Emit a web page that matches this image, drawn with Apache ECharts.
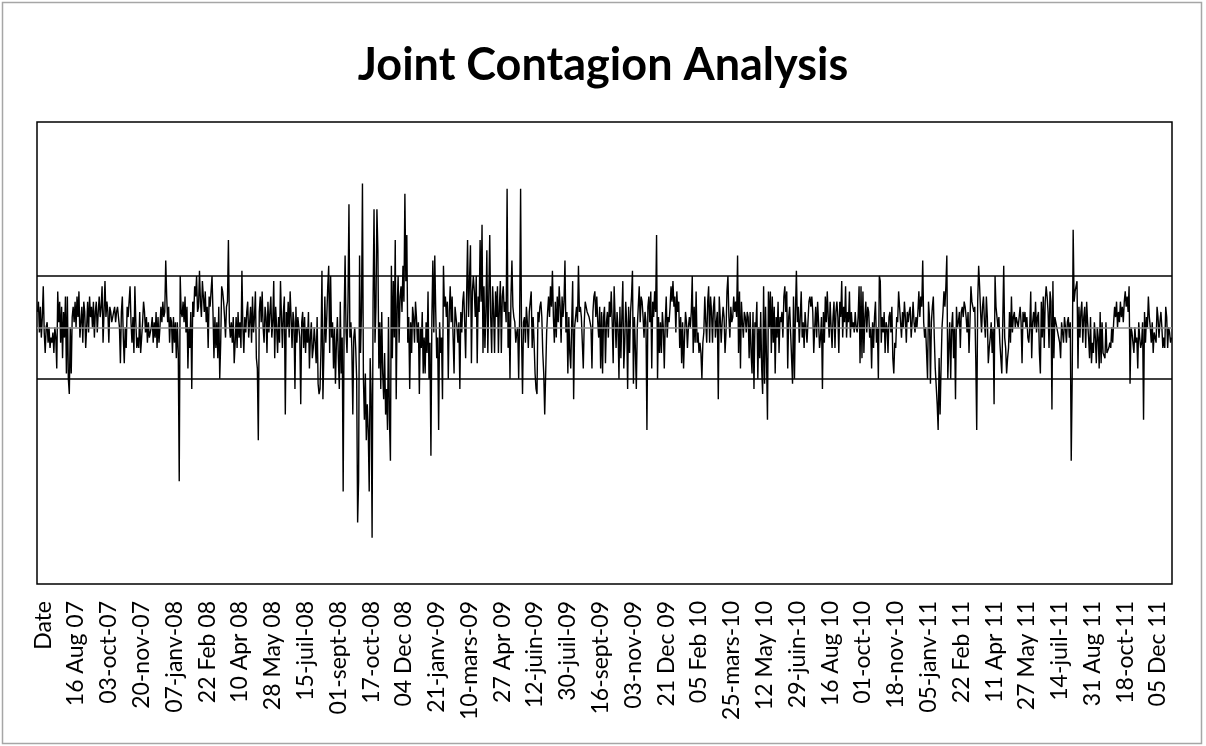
<!DOCTYPE html>
<html><head><meta charset="utf-8">
<script src="https://cdn.jsdelivr.net/npm/echarts@6/dist/echarts.min.js"></script>
<style>html,body{margin:0;padding:0;background:#fff}#c{width:1206px;height:746px}</style>
</head><body><div id="c"></div>
<script>
const chartTitle = 'Joint Contagion Analysis';
const tickLabels = ['Date','16 Aug 07','03-oct-07','20-nov-07','07-janv-08','22 Feb 08','10 Apr 08','28 May 08','15-juil-08','01-sept-08','17-oct-08','04 Dec 08','21-janv-09','10-mars-09','27 Apr 09','12-juin-09','30-juil-09','16-sept-09','03-nov-09','21 Dec 09','05 Feb 10','25-mars-10','12 May 10','29-juin-10','16 Aug 10','01-oct-10','18-nov-10','05-janv-11','22 Feb 11','11 Apr 11','27 May 11','14-juil-11','31 Aug 11','18-oct-11','05 Dec 11'];
const firstLabelIndex = 6;
const labelStep = 34;
const upperBand = 1, centreLine = 0, lowerBand = -1;
const yMin = -5, yMax = 4;
const values = [
0.3,0.5,-0.1,0.4,-0.2,0.2,0.8,-0.1,-0.5,0.0,
0.1,-0.3,0.0,-0.4,-0.2,-0.3,-0.1,-0.5,0.0,-0.2,
-0.8,0.7,0.1,0.5,-0.3,0.4,-0.6,0.3,-0.2,0.6,
-0.9,0.6,-1.0,-1.3,0.0,-0.9,0.2,0.4,0.1,0.5,
0.0,0.6,0.2,0.7,-0.2,0.1,0.4,-0.3,0.5,0.3,
-0.4,0.0,0.5,-0.1,0.6,0.2,0.4,0.0,0.5,-0.2,
0.3,0.5,-0.1,0.3,0.6,0.2,0.4,0.8,-0.3,0.3,
0.9,0.2,0.5,0.3,-0.3,0.4,0.3,0.1,0.2,0.3,
0.4,0.1,0.3,0.4,0.2,0.0,-0.7,0.3,0.6,-0.2,
-0.7,0.0,-0.4,0.4,0.2,0.5,0.8,0.1,-0.3,0.2,
-0.5,0.8,0.1,-0.4,-0.2,-0.4,0.3,-0.5,-0.2,0.1,
0.5,0.3,-0.1,0.2,-0.3,0.1,-0.2,-0.1,0.0,0.2,
-0.3,0.1,-0.2,0.3,-0.4,0.2,-0.3,0.0,0.4,0.1,
0.5,0.2,0.3,1.3,0.6,0.1,0.4,-0.3,0.2,0.1,
-0.5,0.2,-0.3,0.1,-0.6,0.1,-0.5,-3.0,1.0,0.3,
0.2,0.5,0.1,0.6,-0.1,0.4,-0.8,0.0,-0.4,0.3,
-1.2,0.5,0.2,0.8,0.6,1.0,0.3,0.4,1.1,0.5,
0.2,0.9,0.6,0.3,0.7,0.1,0.4,-0.4,0.6,0.4,
0.7,1.0,0.3,-0.6,0.2,-0.4,0.1,-0.6,0.4,-1.0,
-0.3,0.8,0.7,0.5,0.2,-0.2,0.4,
0.5,1.7,0.1,-0.2,0.1,-0.3,0.2,-0.7,-0.3,0.2,
-0.4,0.3,-0.2,0.1,-0.4,1.1,0.0,-0.5,0.2,-0.1,
0.3,0.5,-0.2,0.1,0.4,-0.3,0.6,-0.1,0.2,0.7,
-0.6,-0.8,-2.2,0.3,0.6,0.1,0.7,0.0,-0.3,0.4,
0.2,-0.5,0.5,-0.1,0.3,0.6,-0.2,0.1,0.9,-0.6,
0.4,0.0,-0.5,0.2,-0.3,0.9,0.2,-0.4,0.3,0.6,
-1.7,0.3,0.0,0.5,-0.2,0.7,0.2,-0.4,0.3,0.1,
-1.2,0.4,-0.3,0.2,0.0,-0.2,-1.5,0.1,0.3,-0.4,
0.2,-0.5,0.0,-0.3,0.3,-0.8,-0.2,0.1,-0.6,-0.4,
0.0,-0.3,-0.7,0.2,-1.1,-1.3,-1.2,-0.4,1.1,-1.4,
-0.5,0.6,-0.3,0.2,0.8,1.2,-0.5,1.0,-0.2,0.1,
-0.8,0.0,-1.1,-0.3,0.2,-0.6,-1.2,0.5,-0.9,-0.2,
-3.2,0.2,1.4,-0.1,-0.5,0.5,2.4,-0.2,0.1,-0.4,
-1.7,-0.2,0.0,-0.4,-1.0,-3.8,-3.0,1.4,-0.5,0.3,
2.8,-1.0,-1.8,-0.9,-2.2,-1.5,-2.0,-3.2,-0.6,-1.3,
-4.1,0.5,2.3,-0.3,0.4,2.3,1.5,-0.8,0.1,-1.2,
0.3,-0.9,-1.4,-0.5,-1.7,-1.2,-2.0,0.2,-1.8,-2.6,
1.2,-0.6,0.9,-0.2,1.7,-1.4,0.4,1.0,-0.3,0.6,
0.8,0.3,1.2,0.5,2.6,0.9,1.8,-0.3,0.2,-1.2,
0.1,-0.5,0.4,0.2,-0.3,0.5,
0.2,-0.3,0.1,-1.3,0.0,-0.4,0.3,-0.9,-0.2,-0.9,
0.1,-0.5,0.7,-1.0,-0.3,-2.5,0.2,1.3,-0.1,1.4,
0.3,-0.6,-0.2,-2.0,0.1,-0.5,-0.2,-1.4,1.2,0.4,
0.6,0.2,0.5,-1.0,0.3,0.8,0.1,0.6,-0.2,-0.9,
0.4,0.2,0.0,-0.3,0.1,-1.2,0.3,-0.1,0.5,0.7,
0.1,-0.6,0.6,1.7,0.2,0.9,1.6,-0.7,0.7,1.0,
0.7,0.2,1.0,-0.7,0.6,0.3,1.7,0.5,2.0,-0.5,
0.8,-0.4,0.3,1.5,-0.5,0.6,1.8,0.2,-0.5,0.8,
0.3,-0.5,0.7,0.2,0.8,-0.5,0.4,0.9,-0.5,0.6,
0.8,0.3,0.5,0.1,2.7,-0.4,0.3,-1.0,0.6,1.3,
0.4,0.2,0.1,-0.3,-0.1,0.0,-1.0,0.2,2.7,-0.2,
-1.3,0.1,0.2,-0.3,0.4,0.1,-0.4,0.3,0.5,0.7,
-0.4,0.2,-0.3,-0.9,-1.2,-1.3,0.3,0.1,0.4,0.5,
0.2,-0.5,-0.9,-1.7,-1.7,-0.1,0.3,0.6,0.2,0.8,
0.4,1.1,0.2,-0.3,0.5,-0.2,0.6,0.1,0.8,0.4,
-0.3,0.6,0.2,0.5,1.3,-0.1,0.3,-0.9,0.2,-0.5,
-0.8,0.1,0.9,-1.4,0.0,0.2,0.4,0.1,1.2,0.3,
0.4,0.2,-0.3,-0.8,0.1,0.5,0.4,0.3,0.3,0.2,
0.1,0.0,-0.8,0.3,0.6,0.7,0.2,0.6,0.1,-0.2,
0.4,-0.8,0.3,-0.9,
0.2,0.4,-0.7,0.1,0.3,-0.2,0.5,0.2,0.7,0.1,
-0.7,0.8,0.2,-0.4,0.3,0.0,-1.0,0.4,-0.6,0.2,
0.9,-0.8,-0.3,0.5,0.1,-1.2,0.4,-0.5,0.3,0.6,
1.1,-1.1,0.2,-0.4,-1.2,0.0,0.4,0.8,0.1,0.6,
0.5,0.2,-0.2,0.3,0.1,-2.0,0.4,0.6,0.1,0.7,
-0.8,0.5,0.2,0.7,0.3,1.8,-1.0,0.2,-0.5,0.1,
-0.5,0.3,0.0,-0.8,0.1,0.6,-0.2,0.2,0.1,0.4,
0.8,0.5,0.9,0.4,0.6,-0.1,0.7,0.3,0.5,-0.4,
0.2,-0.7,0.1,-0.8,-0.2,0.3,0.1,-0.4,0.0,0.2,
0.0,0.3,1.0,-0.5,0.4,-0.3,0.7,-0.3,-0.1,-0.5,
-0.3,-0.5,-1.0,-0.3,-0.1,0.6,0.1,-0.3,0.5,0.8,
-0.3,0.6,0.3,-0.3,0.4,0.6,-0.2,0.1,0.3,-1.4,
0.6,0.2,-0.3,0.1,0.4,0.2,-0.5,-0.1,0.7,1.0,
0.2,-0.2,0.4,0.1,0.2,0.6,0.3,0.5,0.2,1.4,
-0.5,0.7,-0.8,0.5,0.1,-0.2,0.3,0.2,-0.1,0.3,
0.2,-0.6,0.3,-0.5,-0.9,0.3,-1.2,0.1,0.0,0.5,
-1.0,0.0,-0.6,0.3,-0.8,-1.3,0.8,-1.1,0.4,-0.6,
-1.8,0.7,0.0,0.7,-0.5,0.6,-0.3,0.4,-0.9,0.2,
-0.2,0.5,-0.5,0.2,0.1,0.3,-0.2,0.6,0.8,0.3,
0.7,-0.8,0.2,0.4,-0.1,
-0.6,-1.1,0.6,-1.0,0.3,1.1,0.1,0.4,-0.3,0.2,
0.7,-0.2,0.1,-0.4,0.3,0.0,-0.3,0.1,0.5,0.6,
0.4,0.6,0.3,-0.5,0.0,0.4,-0.2,0.5,0.1,-0.4,
-0.2,0.2,-1.2,0.3,-0.3,0.6,0.1,0.7,0.2,-0.2,
0.5,0.0,-0.4,0.2,0.5,-0.4,0.3,0.5,0.2,-0.5,
0.5,0.2,0.9,-0.2,0.4,0.1,0.8,-0.2,0.3,0.1,
0.7,-0.2,0.3,0.0,0.1,-0.1,0.3,0.0,-0.1,0.2,
0.8,-0.7,0.8,-0.6,0.7,-0.5,0.2,0.5,-0.1,0.4,
0.3,-0.2,0.0,-0.8,0.1,-0.4,0.2,0.5,-0.3,0.0,
-1.0,1.0,0.9,-0.3,0.2,-0.1,0.3,-0.5,0.1,0.0,
-0.5,0.2,0.3,-0.1,0.4,-0.6,-0.9,-0.3,-0.4,0.2,
0.1,0.7,0.4,0.1,-0.2,0.3,0.0,0.5,0.2,-0.3,
0.3,0.1,0.3,0.4,-0.2,0.1,0.5,0.1,-0.1,0.2,
0.0,0.3,0.7,0.2,0.6,0.4,1.3,0.1,-0.2,0.0,
0.0,-1.0,0.5,0.2,-1.1,0.1,0.4,0.6,-0.2,-0.8,
-0.8,-1.5,-2.0,-0.6,-1.7,-0.8,0.0,0.3,0.7,0.4,
0.8,1.4,-1.0,-0.4,0.1,-1.0,0.0,0.3,-0.6,0.0,
-1.4,0.4,0.0,0.1,0.3,-0.4,0.3,0.4,0.2,0.5,
0.4,0.2,-0.1,0.3,-0.5,0.1,0.8,0.5,0.4,0.3,
0.4,-0.6,-2.0,0.5,1.2,
0.8,0.3,-0.1,0.4,0.6,0.1,-0.2,0.6,0.2,-0.7,
-0.4,-0.2,0.1,-0.5,0.0,-1.5,1.0,0.4,0.2,0.0,
0.2,-0.3,-0.6,-0.9,0.1,1.2,-0.2,-0.4,-0.9,-0.6,
-0.4,0.3,-0.3,0.6,-0.1,0.2,0.3,0.0,0.2,0.1,
0.0,0.2,0.4,0.1,-0.7,0.3,0.1,0.3,0.0,0.2,
-0.2,-0.3,0.0,0.7,-0.6,0.1,0.3,0.0,0.5,-0.1,
0.2,0.3,-0.5,-0.9,0.5,-0.2,0.6,-0.4,0.5,0.8,
0.6,0.3,-0.4,0.7,0.5,-1.6,0.9,-0.6,0.2,0.1,
0.0,-0.1,-0.2,-0.3,-0.6,0.1,-0.1,-0.3,0.2,0.0,
-0.3,0.1,0.2,-0.2,0.1,-2.6,-1.0,1.9,0.5,0.7,
0.7,0.9,-0.8,0.4,-0.2,0.3,0.5,-0.3,0.2,0.4,
-0.4,0.5,0.1,-0.2,-0.6,0.2,-0.7,-0.3,-0.5,0.1,
-0.2,-0.7,0.0,-0.2,-0.8,0.3,-0.7,0.1,-0.5,-0.5,
-0.6,0.1,-0.5,-0.5,-0.4,-0.3,-0.4,0.0,-0.3,0.1,
0.4,0.2,0.5,0.0,0.3,0.1,0.5,0.2,0.4,0.1,
0.5,0.7,0.4,0.6,0.3,0.8,-1.1,0.0,-0.1,-0.1,
-0.5,0.0,-0.3,-0.2,-0.8,0.1,-0.2,-0.4,-0.3,0.1,
-1.8,0.3,-0.3,0.2,0.0,0.6,0.2,0.0,-0.3,0.1,
-0.5,-0.1,-0.2,-0.3,0.4,0.2,-0.2,0.1,0.3,0.0,
-0.4,-0.2,-0.4,0.4,0.2,-0.4,0.0,-0.1,-0.3,-0.2
];

const categories = values.map(function (_, i) {
  const k = (i - firstLabelIndex) / labelStep;
  return (i >= firstLabelIndex && Number.isInteger(k) && k < tickLabels.length) ? tickLabels[k] : '';
});

const chart = echarts.init(document.getElementById('c'), null, {renderer: 'canvas'});
chart.setOption({
  animation: false,
  backgroundColor: '#ffffff',
  title: {
    text: chartTitle, left: 'center', top: 38,
    textStyle: {fontFamily: 'Lato', fontWeight: 'bold', fontSize: 45, color: '#000'}
  },
  graphic: [{
    type: 'rect', silent: true, z: 0,
    shape: {x: 2.5, y: 2.5, width: 1199, height: 741},
    style: {fill: 'none', stroke: '#a6a6a6', lineWidth: 1.5}
  }],
  grid: {left: 37, right: 34, top: 122, bottom: 162, show: true, borderColor: '#000', borderWidth: 1.5, backgroundColor: 'transparent'},
  xAxis: {
    type: 'category', data: categories, boundaryGap: true,
    axisLine: {show: false}, axisTick: {show: false}, splitLine: {show: false},
    axisLabel: {
      interval: function (i, v) { return v !== ''; },
      rotate: 90, margin: 17, fontFamily: 'Lato', fontSize: 23, color: '#000'
    }
  },
  yAxis: {type: 'value', min: yMin, max: yMax, show: false, splitLine: {show: false}},
  series: [
    {
      type: 'line', data: values, symbol: 'none', z: 3, sampling: 'none',
      lineStyle: {color: '#000', width: 1.4}
    },
    {
      type: 'line', data: [], z: 2, symbol: 'none',
      markLine: {
        silent: true, symbol: 'none', label: {show: false},
        data: [
          {yAxis: upperBand, lineStyle: {color: '#000', width: 1.5, type: 'solid'}},
          {yAxis: centreLine, lineStyle: {color: '#8c8c8c', width: 1.5, type: 'solid'}},
          {yAxis: lowerBand, lineStyle: {color: '#000', width: 1.5, type: 'solid'}}
        ]
      }
    }
  ]
});
</script></body></html>
